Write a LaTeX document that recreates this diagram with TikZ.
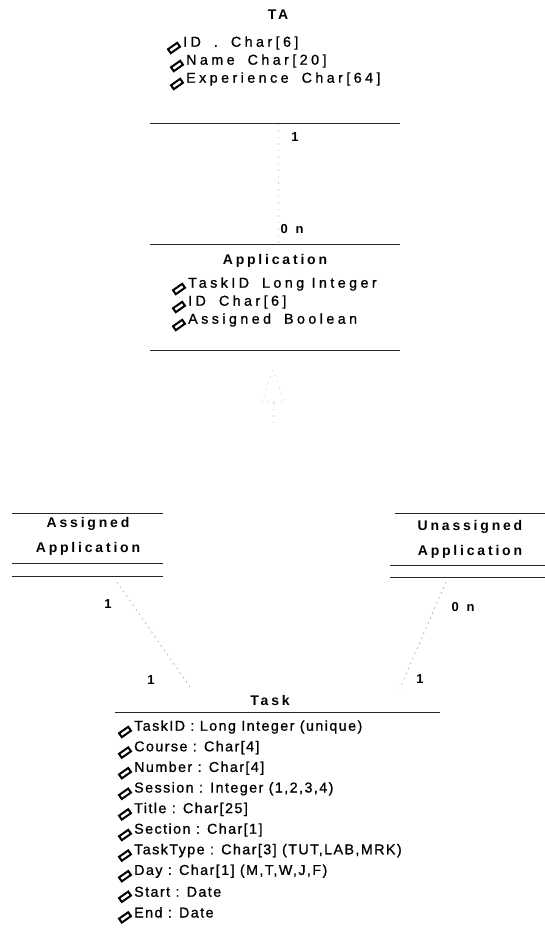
\documentclass[tikz,border=0pt]{standalone}
\usepackage{fontspec}
\setmainfont{Liberation Sans}
\newfontfamily\umlfont[LetterSpace=10,FakeBold=0.9]{Liberation Sans}
\newfontfamily\umlwide[LetterSpace=24,FakeBold=0.9]{Liberation Sans}
\newfontfamily\umlbold[LetterSpace=20]{Liberation Sans}
\usetikzlibrary{calc}
\newcommand\umlattr[4]{%
  \pic at ($(#2,#3)+(-9,5)$) {attricon};
  \node[attr] (#1) at (#2,#3) {#4};}
\newcommand\umlattrw[4]{%
  \pic at ($(#2,#3)+(-9,5)$) {attricon};
  \node[attrw] (#1) at (#2,#3) {#4};}
\newcommand\wgap{\hspace{13pt}}
\begin{document}
\begin{tikzpicture}[x=1pt,y=-1pt,
  attr/.style={anchor=west, inner sep=0pt, font=\umlfont\fontsize{14.3}{16}\selectfont},
  attrw/.style={anchor=west, inner sep=0pt, font=\umlwide\fontsize{14.3}{16}\selectfont},
  cls/.style={anchor=center, inner sep=0pt, align=center, font=\umlbold\bfseries\fontsize{14}{25}\selectfont},
  mult/.style={anchor=center, inner sep=0pt, font=\umlbold\bfseries\fontsize{13}{15}\selectfont},
  rule/.style={draw=black!85, line width=0.9pt},
  link/.style={draw=black!35, line width=0.7pt, dash pattern=on 1.5pt off 4pt},
  faint/.style={draw=black!18, line width=0.6pt, dash pattern=on 1.5pt off 5pt},
  attricon/.pic={\draw[line width=2pt, rotate=35] (-5.6,-2.4) rectangle (5.6,2.4);}
]
\useasboundingbox (0,0) rectangle (545,936);

% ---------- TA ----------
\node[cls] (taT) at (278,15) {TA};
\umlattrw{ta1}{183}{43}{ID\wgap.\wgap Char[6]}
\umlattrw{ta2}{186}{61}{Name\wgap Char[20]}
\umlattrw{ta3}{186}{79}{Experience\wgap Char[64]}
\draw[rule] (150,123) -- (400,123);
\coordinate (taB) at (278,124);
\node[mult] (m1) at (295,137) {1};

% ---------- Application ----------
\node[mult] (m2) at (292,229) {0\hspace{0.6em}n};
\draw[rule] (150,244) -- (400,244);
\coordinate (apT) at (278,243);
\node[cls] (apT2) at (275,261) {Application};
\umlattrw{ap1}{188}{284}{TaskID\wgap Long Integer}
\umlattrw{ap2}{188}{302}{ID\wgap Char[6]}
\umlattrw{ap3}{188}{320}{Assigned\wgap Boolean}
\draw[rule] (150,350) -- (400,350);
\coordinate (apB) at (273,351);

\draw[faint] (taB) -- (apT);

% generalisation (faint)
\coordinate (gA) at (273,370);
\coordinate (gL) at (262,402);
\coordinate (gR) at (285,402);
\coordinate (gM) at (273,402);
\coordinate (gS) at (273,424);
\draw[faint] (gA) -- (gL) -- (gR) -- cycle;
\draw[faint] (gM) -- (gS);

% ---------- Assigned Application ----------
\draw[rule] (12,513) -- (163,513);
\node[cls] (asT) at (88,536) {Assigned\\Application};
\draw[rule] (12,563) -- (163,563);
\draw[rule] (12,576) -- (163,576);
\coordinate (asB) at (117,582);
\node[mult] (m3) at (108,604) {1};

% ---------- Unassigned Application ----------
\draw[rule] (395,513) -- (545,513);
\node[cls] (unT) at (470,539) {Unassigned\\Application};
\draw[rule] (390,565) -- (545,565);
\draw[rule] (390,577) -- (545,577);
\coordinate (unB) at (446,582);
\node[mult] (m4) at (463,607) {0\hspace{0.6em}n};

% ---------- Task ----------
\node[mult] (m5) at (151,680) {1};
\node[mult] (m6) at (420,679) {1};
\node[cls] (tkT) at (270,700) {Task};
\draw[rule] (115,712) -- (440,712);
\coordinate (tkL) at (192,690);
\coordinate (tkR) at (400,688);
\umlattr{tk1}{134}{727}{TaskID : Long Integer (unique)}
\umlattr{tk2}{134}{747.6}{Course : Char[4]}
\umlattr{tk3}{134}{768.2}{Number : Char[4]}
\umlattr{tk4}{134}{788.8}{Session : Integer (1,2,3,4)}
\umlattr{tk5}{134}{809.4}{Title : Char[25]}
\umlattr{tk6}{134}{830}{Section : Char[1]}
\umlattr{tk7}{134}{850.6}{TaskType : Char[3] (TUT,LAB,MRK)}
\umlattr{tk8}{134}{871.2}{Day : Char[1] (M,T,W,J,F)}
\umlattr{tk9}{134}{891.8}{Start : Date}
\umlattr{tk10}{134}{912.4}{End : Date}

\draw[link] (asB) -- (tkL);
\draw[link] (unB) -- (tkR);
\end{tikzpicture}
\end{document}
